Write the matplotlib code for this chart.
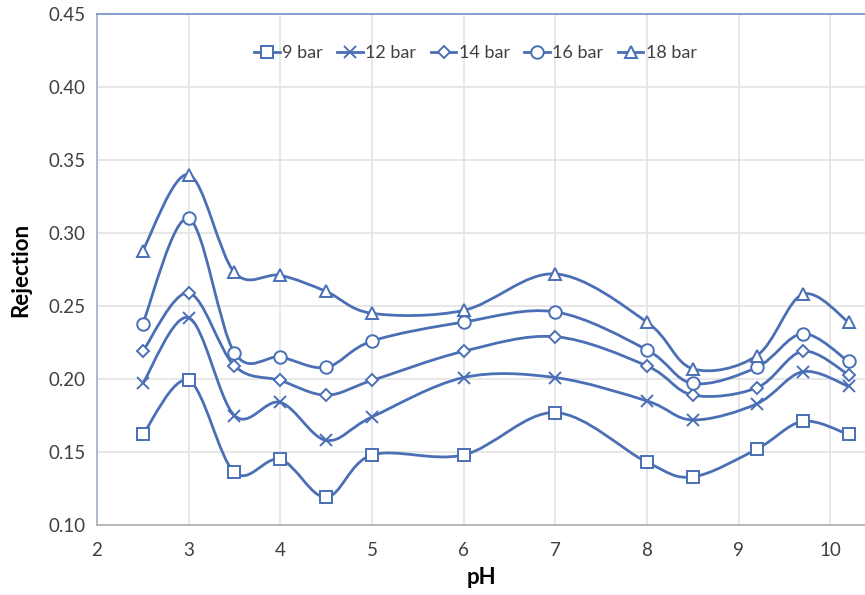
import numpy as np
import matplotlib
matplotlib.use("Agg")
import matplotlib.pyplot as plt
from matplotlib.path import Path
from matplotlib.patches import PathPatch
from matplotlib.lines import Line2D

plt.rcParams['font.family'] = ['Lato', 'DejaVu Sans']

# pH values used in the experiments
ph = [2.5, 3, 3.5, 4, 4.5, 5, 6, 7, 8, 8.5, 9.2, 9.7, 10.2]

# rejection at each operating pressure
rej_9 = [0.162, 0.199, 0.136, 0.145, 0.119, 0.148, 0.148, 0.177, 0.143, 0.133, 0.152, 0.171, 0.162]
rej_12 = [0.197, 0.242, 0.175, 0.184, 0.158, 0.174, 0.201, 0.201, 0.185, 0.172, 0.183, 0.205, 0.195]
rej_14 = [0.219, 0.259, 0.209, 0.199, 0.189, 0.199, 0.219, 0.229, 0.209, 0.189, 0.194, 0.219, 0.203]
rej_16 = [0.238, 0.310, 0.218, 0.215, 0.208, 0.226, 0.239, 0.246, 0.220, 0.197, 0.208, 0.231, 0.212]
rej_18 = [0.288, 0.340, 0.273, 0.271, 0.260, 0.245, 0.247, 0.272, 0.239, 0.207, 0.216, 0.258, 0.239]

labels = ['9 bar', '12 bar', '14 bar', '16 bar', '18 bar']
series = [rej_9, rej_12, rej_14, rej_16, rej_18]
markers = ['s', 'x', 'D', 'o', '^']
msizes = [9, 9, 6, 9, 9]

color = '#4a6fb5'


def smooth_path(x, y):
    """Catmull-Rom style bezier path through the points (like Excel's smoothed line)."""
    pts = np.column_stack([x, y])
    n = len(pts)
    verts = [pts[0]]
    codes = [Path.MOVETO]
    for i in range(n - 1):
        p0 = pts[max(i - 1, 0)]
        p1 = pts[i]
        p2 = pts[i + 1]
        p3 = pts[min(i + 2, n - 1)]
        c1 = p1 + (p2 - p0) / 6.0
        c2 = p2 - (p3 - p1) / 6.0
        verts += [c1, c2, p2]
        codes += [Path.CURVE4] * 3
    return Path(verts, codes)


fig = plt.figure(figsize=(8.65, 5.95), dpi=100)
ax = fig.add_axes([0.1121, 0.1176, 0.8879, 0.8589])

handles = []
for vals, mk, ms, lab in zip(series, markers, msizes, labels):
    ax.add_patch(PathPatch(smooth_path(ph, vals), facecolor='none',
                           edgecolor=color, lw=2, zorder=3))
    ax.plot(ph, vals, linestyle='none', marker=mk, markersize=ms,
            markerfacecolor='white', markeredgecolor=color,
            markeredgewidth=1.4, zorder=4)
    handles.append(Line2D([], [], color=color, lw=2, marker=mk, markersize=ms,
                          markerfacecolor='white', markeredgecolor=color,
                          markeredgewidth=1.4))

ax.set_xlim(2, 10.38)
ax.set_ylim(0.10, 0.45)
ax.set_xticks(range(2, 11))
ax.set_yticks(np.arange(0.10, 0.451, 0.05))
ax.yaxis.set_major_formatter(plt.FormatStrFormatter('%.2f'))
ax.grid(True, color='#e3e3e3', lw=1.2)
ax.set_axisbelow(True)
ax.tick_params(length=0, labelsize=13.5, labelcolor='#404040')
ax.tick_params(axis='y', pad=8)
ax.tick_params(axis='x', pad=12)

ax.spines['right'].set_visible(False)
ax.spines['top'].set_color('#7f97c9')
ax.spines['left'].set_color('#a9b4cc')
ax.spines['bottom'].set_color('#b3b3b3')
for s in ['top', 'left', 'bottom']:
    ax.spines[s].set_linewidth(1.3)

ax.set_xlabel('pH', fontsize=16, fontweight='bold', labelpad=6)
ax.set_ylabel('Rejection', fontsize=16, fontweight='bold')
ax.yaxis.set_label_coords(-0.086, 0.5)

ax.legend(handles, labels, loc='center', bbox_to_anchor=(0.493, 0.924), ncol=5,
          frameon=False, fontsize=13, handlelength=1.4, handletextpad=0.15,
          columnspacing=0.8, labelcolor='#404040')

fig.savefig('out.png', dpi=100)
